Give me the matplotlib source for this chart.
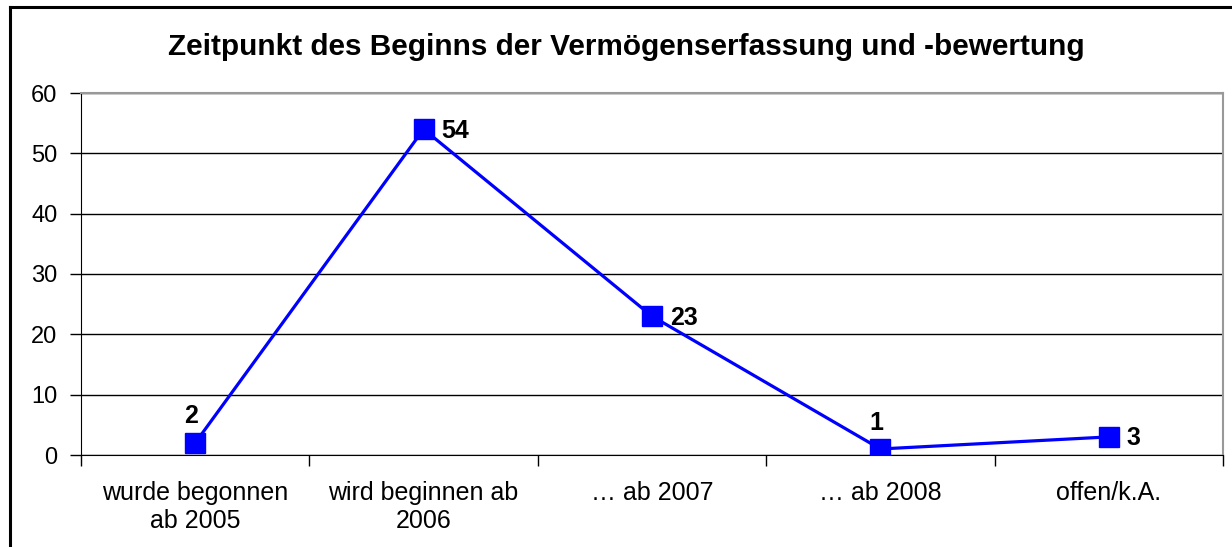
import matplotlib
matplotlib.use("Agg")
import matplotlib.pyplot as plt
from matplotlib.lines import Line2D

categories = ["wurde begonnen\nab 2005", "wird beginnen ab\n2006", "… ab 2007", "… ab 2008", "offen/k.A."]
values = [2, 54, 23, 1, 3]
label_above = [True, False, False, True, False]
title = "Zeitpunkt des Beginns der Vermögenserfassung und -bewertung"

plt.rcParams["font.family"] = ["Liberation Sans", "DejaVu Sans"]

fig = plt.figure(figsize=(12.32, 5.47), dpi=100)
ax = fig.add_axes([81 / 1232, 1 - 455 / 547, (1223 - 81) / 1232, (455 - 93) / 547])

x = list(range(len(values)))
ax.plot(x, values, color="#0000ff", lw=2.3, marker="s", ms=14, mfc="#0000ff", mec="#0000ff", zorder=3)

for xi, v, above in zip(x, values, label_above):
    if above:
        ax.annotate(str(v), (xi, v), xytext=(-3, 14), textcoords="offset points",
                    ha="center", va="baseline", fontsize=18, fontweight="bold")
    else:
        ax.annotate(str(v), (xi, v), xytext=(13, -1), textcoords="offset points",
                    ha="left", va="center", fontsize=18, fontweight="bold")

ax.set_xlim(-0.5, len(values) - 0.5)
ax.set_ylim(0, 60)
ax.set_yticks(range(0, 61, 10))
ax.yaxis.grid(True, color="black", lw=1)
ax.set_axisbelow(True)

ax.set_xticks([i - 0.5 for i in range(len(values) + 1)])
ax.set_xticklabels([])
ax.set_xticks(x, minor=True)
ax.set_xticklabels(categories, minor=True, fontsize=18, linespacing=1.2, va="top")
ax.tick_params(axis="x", which="minor", length=0, pad=19)
ax.tick_params(axis="x", which="major", length=8, width=1, direction="out")
ax.tick_params(axis="y", length=8, width=1, direction="out", labelsize=17, pad=9)

for side in ["top", "right"]:
    ax.spines[side].set_color("#999999")
    ax.spines[side].set_linewidth(1.5)
ax.spines["left"].set_color("black")
ax.spines["bottom"].set_color("black")

fig.text(626 / 1232, 1 - 55 / 547, title, ha="center", va="baseline", fontsize=21.4, fontweight="bold")

# chart area border (left and top visible)
fig.add_artist(Line2D([10 / 1232, 10 / 1232], [0, 1 - 7 / 547], transform=fig.transFigure, color="black", lw=2.2))
fig.add_artist(Line2D([10 / 1232, 1], [1 - 7 / 547, 1 - 7 / 547], transform=fig.transFigure, color="black", lw=2.2))

fig.savefig("out.png", dpi=100)
